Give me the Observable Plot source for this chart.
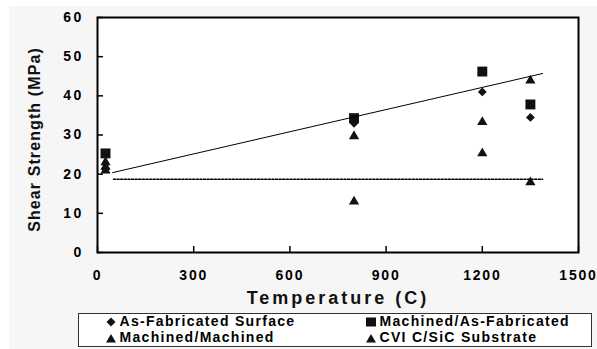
<!DOCTYPE html>
<html>
<head>
<meta charset="utf-8">
<script src="https://cdn.jsdelivr.net/npm/d3@7"></script>
<script src="https://cdn.jsdelivr.net/npm/@observablehq/plot@0.6"></script>
<style>
  body { margin: 0; background: white; }
  #wrap { position: relative; width: 597px; height: 349px; background: white; overflow: hidden;
          font-family: "Liberation Sans", Arial, sans-serif; font-weight: bold; }
  #bg { position: absolute; left: 9px; top: 6px; right: 0; bottom: 0; background: #f6f6f6; }
  #chart { position: absolute; left: 0; top: 0; }
  #chart g[aria-label="x-axis tick label"] text { letter-spacing: 1.8px; }
  #chart g[aria-label="y-axis tick label"] text { letter-spacing: 2.3px; }
  #legend { position: absolute; left: 78px; top: 313px; width: 512px; height: 32px;
            border: 1.5px solid #333; background: white; font-size: 14px; letter-spacing: 1.3px; color: #000; }
  .item { position: absolute; height: 13px; line-height: 13px; white-space: nowrap; }
  .item svg { position: absolute; left: -14px; top: 2px; }
</style>
</head>
<body>
<div id="wrap">
  <div id="bg"></div>
  <div id="chart"></div>
  <div id="legend"></div>
</div>
<script>
// ---- data ----
const seriesNames = ["As-Fabricated Surface", "Machined/As-Fabricated", "Machined/Machined", "CVI C/SiC Substrate"];
const asFabT = [25, 800, 1200, 1350];
const asFabV = [21.3, 33.0, 41.0, 34.5];
const machAsFabT = [25, 800, 1200, 1350];
const machAsFabV = [25.3, 34.3, 46.2, 37.8];
const machMachT = [25, 800, 1200, 1350];
const machMachV = [23.0, 29.7, 33.3, 43.9];
const cviT = [25, 25, 800, 1200, 1350];
const cviV = [21.9, 20.9, 13.0, 25.3, 17.9];
const trendT = [47, 1388];
const trendV = [20.4, 45.7];
const refT = [50, 1388];
const refV = [18.7, 18.7];
const xTicks = [0, 300, 600, 900, 1200, 1500];
const yTicks = [0, 10, 20, 30, 40, 50, 60];
const xLabel = "Temperature (C)";
const yLabel = "Shear Strength (MPa)";

const pts = (T, V) => T.map((t, i) => ({t, v: V[i]}));

const chart = Plot.plot({
  width: 597,
  height: 349,
  marginLeft: 97,
  marginRight: 19,
  marginTop: 17,
  marginBottom: 97,
  style: {background: "transparent", fontFamily: "'Liberation Sans', Arial, sans-serif", fontWeight: "bold", fontSize: "14px", color: "#000"},
  x: {domain: [0, 1500], axis: null},
  y: {domain: [0, 60], axis: null},
  marks: [
    Plot.frame({fill: "white"}),
    Plot.axisX({ticks: xTicks, tickFormat: d => String(d), tickSize: -6, tickPadding: 24, strokeWidth: 1.5, label: null, fontSize: 14, fontWeight: "bold"}),
    Plot.axisY({ticks: yTicks, tickFormat: d => String(d), tickSize: -6, tickPadding: 20, strokeWidth: 1.5, label: null, fontSize: 14, fontWeight: "bold"}),
    Plot.line(pts(refT, refV), {x: "t", y: "v", stroke: "black", strokeWidth: 1.6, strokeDasharray: "2,1.6"}),
    Plot.dot(pts(machAsFabT, machAsFabV), {x: "t", y: "v", symbol: "square", r: 5.6, fill: "#111", stroke: "none"}),
    Plot.dot(pts(asFabT, asFabV), {x: "t", y: "v", symbol: "diamond2", r: 4, fill: "#111", stroke: "none"}),
    Plot.dot(pts(cviT, cviV), {x: "t", y: "v", symbol: "triangle", r: 3.8, fill: "#111", stroke: "none"}),
    Plot.dot(pts(machMachT, machMachV), {x: "t", y: "v", symbol: "triangle", r: 3.8, fill: "#111", stroke: "none"}),
    Plot.line(pts(trendT, trendV), {x: "t", y: "v", stroke: "black", strokeWidth: 1}),
    Plot.frame({stroke: "black", strokeWidth: 2}),
    Plot.text([xLabel], {frameAnchor: "bottom", dy: 46, textAnchor: "middle", lineAnchor: "middle", fontSize: 18, fontWeight: "bold", fill: "#111"}),
    Plot.text([yLabel], {frameAnchor: "left", dx: -63, dy: 4.5, rotate: -90, textAnchor: "middle", lineAnchor: "middle", fontSize: 16, fontWeight: "bold", fill: "#111"})
  ]
});
// letter spacing for the axis titles (stretched look of the original)
chart.querySelectorAll('g[aria-label="text"] text').forEach(t => {
  t.style.letterSpacing = t.textContent === xLabel ? "3px" : "1.1px";
});
document.getElementById("chart").appendChild(chart);

// ---- legend ----
const shapes = {
  diamond: '<svg width="10" height="10"><path d="M5,0.5L9.5,5L5,9.5L0.5,5Z" fill="#111"/></svg>',
  square: '<svg width="10" height="10"><rect x="0" y="0.5" width="10" height="9" fill="#111"/></svg>',
  triangle: '<svg width="10" height="10"><path d="M5,1L10,9.5L0,9.5Z" fill="#111"/></svg>'
};
const legendSymbols = ["diamond", "square", "triangle", "triangle"];
const legendPos = [[40.5, 1], [300.5, 1], [40.5, 17], [300.5, 17]];
const legend = document.getElementById("legend");
seriesNames.forEach((name, i) => {
  const d = document.createElement("div");
  d.className = "item";
  d.style.left = legendPos[i][0] + "px";
  d.style.top = legendPos[i][1] + "px";
  d.innerHTML = shapes[legendSymbols[i]] + '<span>' + name + '</span>';
  legend.appendChild(d);
});
</script>
</body>
</html>
